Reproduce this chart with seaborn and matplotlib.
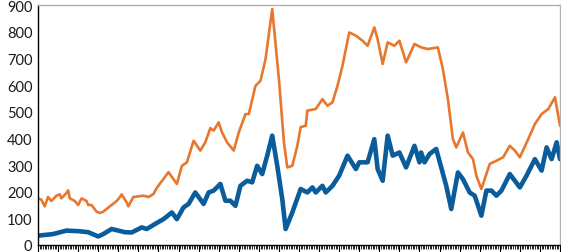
import pandas as pd
import numpy as np
import seaborn as sns
import matplotlib.pyplot as plt
from matplotlib.ticker import MultipleLocator

# month index (from start of series) and values
orange_month = [0, 2, 4, 6, 8, 11, 13, 14, 17, 18, 19, 22, 24, 26, 29, 30, 32, 35, 37, 39,
                42, 44, 47, 49, 50, 53, 54, 57, 63, 66, 69, 71, 75, 78, 83, 86, 89, 93, 97, 100,
                103, 105, 108, 110, 113, 117, 120, 124, 126, 130, 133, 136, 140, 144, 147, 149, 152, 155, 157, 160,
                161, 166, 170, 173, 176, 179, 182, 186, 190, 194, 197, 201, 203, 206, 209, 213, 216, 220, 225, 229,
                233, 239, 242, 245, 248, 250, 254, 257, 260, 262, 265, 270, 274, 278, 282, 285, 288, 293, 297, 301,
                305, 309, 312]
orange_val = [175, 170, 145, 180, 165, 185, 190, 175, 195, 205, 175, 165, 150, 175, 165, 150, 150, 125, 120, 125,
              140, 150, 165, 180, 190, 160, 145, 180, 185, 180, 191, 214, 248, 273, 229, 297, 310, 391, 354, 385,
              438, 429, 460, 422, 385, 354, 422, 491, 491, 597, 616, 697, 885, 622, 385, 291, 297, 372, 442, 447,
              504, 510, 547, 522, 535, 597, 672, 797, 785, 766, 747, 816, 772, 679, 760, 747, 766, 685, 754, 741,
              735, 741, 660, 547, 397, 366, 422, 347, 322, 260, 210, 304, 316, 329, 372, 354, 329, 397, 454, 491,
              510, 554, 447]

blue_month = [0, 9, 17, 24, 30, 36, 39, 44, 48, 52, 56, 62, 65, 70, 75, 80, 83, 87, 90, 94,
              99, 102, 105, 109, 112, 115, 118, 121, 125, 128, 131, 134, 137, 140, 143, 146, 148, 152, 157, 161,
              164, 166, 170, 172, 176, 180, 185, 190, 192, 197, 201, 203, 206, 209, 212, 216, 220, 225, 228, 229,
              231, 234, 238, 241, 244, 247, 251, 254, 258, 261, 265, 268, 271, 274, 277, 282, 288, 292, 297, 301,
              304, 307, 310, 312]
blue_val = [35, 41, 54, 52, 48, 32, 41, 60, 54, 48, 47, 66, 60, 79, 97, 122, 97, 141, 154, 197,
            154, 197, 204, 229, 166, 166, 147, 222, 241, 235, 297, 266, 335, 410, 297, 172, 60, 122, 210, 197,
            216, 197, 222, 197, 222, 260, 335, 285, 310, 310, 397, 285, 241, 410, 335, 347, 291, 372, 310, 347,
            310, 341, 360, 291, 222, 135, 272, 247, 197, 185, 110, 204, 204, 185, 204, 266, 216, 260, 322, 279,
            366, 322, 385, 322]

orange = pd.DataFrame({"month": orange_month, "value": orange_val})
blue = pd.DataFrame({"month": blue_month, "value": blue_val})

sns.set_style("white")
plt.rcParams["font.family"] = ["Lato", "DejaVu Sans"]

fig = plt.figure(figsize=(5.61, 2.53), dpi=100)
ax = fig.add_axes([38 / 561, 7 / 253, 522 / 561, 240 / 253])

sns.lineplot(data=orange, x="month", y="value", color="#E8772E", linewidth=1.9,
             solid_joinstyle="round", solid_capstyle="round", ax=ax)
sns.lineplot(data=blue, x="month", y="value", color="#0B5C9B", linewidth=3.3,
             solid_joinstyle="round", solid_capstyle="round", ax=ax)

ax.set_xlim(0, 312)
ax.set_ylim(0, 900)
ax.set_yticks(range(0, 901, 100))
ax.xaxis.set_major_locator(MultipleLocator(12))
ax.xaxis.set_minor_locator(MultipleLocator(1))
ax.set_xticklabels([])
ax.tick_params(axis="x", which="major", direction="out", length=5, width=0.8, color="black", bottom=True)
ax.tick_params(axis="x", which="minor", direction="out", length=3, width=0.6, color="black", bottom=True)
ax.tick_params(axis="y", length=0, labelsize=10.5, pad=4, colors="#1a1a1a")
ax.set_xlabel("")
ax.set_ylabel("")

for side in ["left", "bottom"]:
    ax.spines[side].set_color("black")
    ax.spines[side].set_linewidth(1.0)
for side in ["top", "right"]:
    ax.spines[side].set_color("#b0b0b0")
    ax.spines[side].set_linewidth(1.0)

fig.savefig("out.png", dpi=100)
